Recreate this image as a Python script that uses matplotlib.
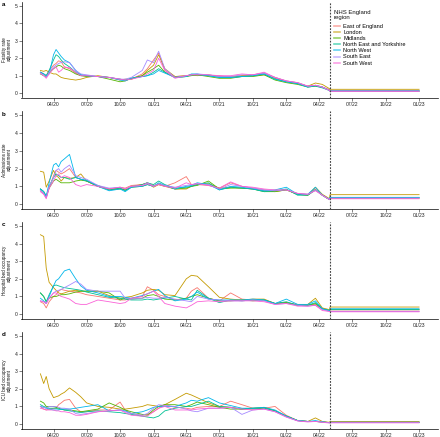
import numpy as np
import pandas as pd
import matplotlib
matplotlib.use("Agg")
import matplotlib.pyplot as plt
import matplotlib.dates as mdates

plt.rcParams['font.family'] = ['Liberation Sans', 'DejaVu Sans']

# observation dates (shared by every series)
dates = pd.to_datetime([
    "2020-02-25", "2020-03-05", "2020-03-12", "2020-03-20", "2020-04-01",
    "2020-04-08", "2020-04-15", "2020-04-22", "2020-05-01", "2020-05-15",
    "2020-06-01", "2020-06-15", "2020-07-01", "2020-08-01", "2020-09-01",
    "2020-10-01", "2020-10-15", "2020-11-01", "2020-12-01", "2020-12-15",
    "2021-01-01", "2021-01-15", "2021-02-01", "2021-03-01", "2021-04-01",
    "2021-04-15", "2021-05-01", "2021-06-01", "2021-07-01", "2021-08-01",
    "2021-09-01", "2021-10-01", "2021-11-01", "2021-12-01", "2022-01-01",
    "2022-02-01", "2022-03-01", "2022-03-22", "2022-04-10", "2022-04-30",
])
proj_dates = pd.to_datetime(["2022-05-01", "2023-01-01"])
cutoff = pd.Timestamp("2022-05-01")

regions = ["East of England", "London", "Midlands", "North East and Yorkshire",
           "North West", "South East", "South West"]
colors = ["#F8766D", "#C49A00", "#53B400", "#00C094", "#00B6EB", "#A58AFF", "#FB61D7"]

panel_letters = ["a", "b", "c", "d"]
ylabels = ["Fatality rate\nadjustment", "Admissions rate\nadjustment",
           "Hospital bed occupancy\nadjustment", "ICU bed occupancy\nadjustment"]

# ---- a: fatality rate adjustment ----
fatality = [
    [1.2, 1.1, 1.0, 1.3, 1.6, 1.7, 1.85, 1.8, 1.5, 1.4, 1.15, 1.0, 1.0, 0.95, 0.9, 0.8, 0.75, 0.8, 1.1, 1.4,
     1.9, 2.3, 1.3, 0.95, 1.0, 1.05, 1.05, 1.0, 1.0, 0.9, 1.0, 1.05, 1.15, 0.9, 0.7, 0.6, 0.4, 0.45, 0.35, 0.2],
    [1.3, 1.25, 1.3, 1.2, 1.1, 1.1, 1.0, 0.9, 0.85, 0.8, 0.75, 0.8, 0.9, 1.0, 0.9, 0.75, 0.8, 0.8, 1.0, 1.3,
     1.6, 2.2, 1.4, 0.95, 1.0, 1.05, 1.0, 1.05, 0.95, 0.95, 1.0, 1.0, 1.05, 0.85, 0.65, 0.55, 0.4, 0.58, 0.5, 0.25],
    [1.1, 1.0, 0.95, 1.2, 1.4, 1.5, 1.6, 1.55, 1.4, 1.3, 1.1, 1.0, 0.95, 0.95, 0.8, 0.65, 0.7, 0.85, 1.0, 1.2,
     1.4, 1.6, 1.2, 0.9, 0.95, 1.0, 1.05, 0.95, 0.85, 0.85, 0.95, 0.95, 1.05, 0.75, 0.6, 0.5, 0.35, 0.4, 0.35, 0.15],
    [1.2, 1.1, 1.0, 1.3, 1.9, 2.2, 2.1, 1.9, 1.7, 1.5, 1.2, 1.05, 1.0, 0.95, 0.9, 0.8, 0.75, 0.85, 0.95, 1.0,
     1.2, 1.4, 1.2, 0.9, 0.95, 1.05, 1.05, 1.0, 0.9, 0.9, 0.95, 1.0, 1.1, 0.8, 0.65, 0.55, 0.35, 0.4, 0.3, 0.15],
    [1.2, 1.1, 1.0, 1.1, 2.2, 2.5, 2.3, 2.1, 1.9, 1.75, 1.3, 1.05, 1.0, 0.95, 0.9, 0.75, 0.7, 0.85, 0.95, 1.0,
     1.1, 1.3, 1.15, 0.9, 0.95, 1.1, 1.1, 1.0, 0.9, 0.9, 0.95, 1.0, 1.1, 0.8, 0.65, 0.55, 0.35, 0.45, 0.35, 0.15],
    [1.15, 1.0, 0.9, 1.2, 1.5, 1.6, 1.7, 1.75, 1.8, 1.75, 1.3, 1.1, 1.05, 0.95, 0.9, 0.8, 0.8, 0.9, 1.3, 1.9,
     1.75, 2.4, 1.4, 0.9, 1.0, 1.05, 1.1, 1.05, 0.95, 0.95, 1.05, 1.05, 1.15, 0.9, 0.7, 0.6, 0.4, 0.45, 0.35, 0.15],
    [1.15, 1.0, 0.85, 1.1, 1.4, 1.5, 1.2, 1.3, 1.5, 1.45, 1.2, 1.0, 1.0, 0.95, 0.9, 0.8, 0.75, 0.8, 0.95, 1.1,
     1.3, 2.0, 1.3, 0.85, 1.0, 1.05, 1.05, 1.05, 1.0, 1.0, 1.1, 1.05, 1.2, 0.9, 0.7, 0.6, 0.4, 0.45, 0.35, 0.15],
]
fatality_proj = [0.15, 0.22, 0.12, 0.12, 0.12, 0.13, 0.1]

# ---- b: admissions rate adjustment ----
admissions = [
    [0.75, 0.6, 0.35, 0.9, 1.6, 1.9, 1.8, 1.7, 1.8, 2.0, 1.5, 1.4, 1.3, 1.0, 0.85, 0.95, 0.9, 1.05, 1.1, 1.2,
     1.05, 1.1, 1.0, 1.2, 1.55, 1.1, 1.1, 1.05, 0.9, 1.2, 1.0, 0.9, 0.8, 0.75, 0.8, 0.6, 0.55, 0.85, 0.5, 0.25],
    [1.85, 1.8, 0.95, 1.3, 1.9, 1.6, 1.5, 1.3, 1.5, 1.45, 1.5, 1.7, 1.3, 1.0, 0.85, 0.9, 0.8, 1.0, 1.1, 1.2,
     0.95, 1.1, 1.0, 0.85, 0.85, 1.0, 1.1, 1.15, 0.9, 0.95, 0.9, 0.85, 0.75, 0.7, 0.8, 0.55, 0.5, 0.95, 0.55, 0.3],
    [0.85, 0.7, 0.45, 0.9, 1.3, 1.4, 1.3, 1.2, 1.2, 1.2, 1.3, 1.35, 1.3, 1.0, 0.8, 0.85, 0.8, 0.95, 1.0, 1.1,
     1.0, 1.15, 1.05, 0.85, 0.9, 1.0, 1.05, 1.3, 0.85, 0.9, 0.9, 0.85, 0.7, 0.7, 0.8, 0.55, 0.5, 0.8, 0.5, 0.25],
    [0.85, 0.7, 0.4, 1.0, 1.5, 1.7, 1.6, 1.5, 1.5, 1.4, 1.5, 1.4, 1.3, 1.05, 0.8, 0.9, 0.75, 0.95, 1.1, 1.2,
     1.1, 1.3, 1.1, 0.9, 0.95, 1.0, 1.1, 1.2, 0.8, 0.95, 0.9, 0.85, 0.7, 0.75, 0.85, 0.5, 0.5, 0.8, 0.5, 0.25],
    [0.85, 0.7, 0.45, 1.2, 2.2, 2.3, 2.1, 2.4, 2.55, 2.8, 1.5, 1.4, 1.35, 1.0, 0.75, 0.85, 0.7, 0.95, 1.0, 1.1,
     1.0, 1.2, 1.05, 0.85, 1.0, 1.05, 1.2, 1.1, 0.8, 1.0, 0.95, 0.85, 0.75, 0.8, 0.95, 0.55, 0.55, 0.95, 0.5, 0.25],
    [0.75, 0.6, 0.35, 1.0, 1.5, 1.9, 2.0, 1.8, 2.0, 2.2, 1.6, 1.5, 1.4, 1.05, 0.9, 0.95, 0.85, 1.0, 1.05, 1.2,
     1.0, 1.15, 1.05, 0.95, 1.05, 1.1, 1.15, 1.1, 0.85, 1.1, 1.0, 0.9, 0.8, 0.75, 0.8, 0.6, 0.55, 0.8, 0.5, 0.25],
    [0.7, 0.55, 0.3, 0.9, 1.3, 1.6, 1.7, 1.5, 1.6, 1.5, 1.1, 1.0, 1.1, 1.0, 0.85, 0.95, 0.85, 1.0, 1.05, 1.15,
     1.0, 1.1, 1.0, 0.9, 1.2, 1.1, 1.15, 1.05, 0.9, 1.25, 1.0, 0.95, 0.85, 0.8, 0.8, 0.6, 0.55, 0.75, 0.5, 0.25],
]
admissions_proj = [0.33, 0.53, 0.35, 0.36, 0.38, 0.34, 0.3]

# ---- c: hospital bed occupancy adjustment ----
hospital = [
    [0.7, 0.6, 0.35, 0.7, 1.0, 1.1, 1.3, 1.4, 1.35, 1.3, 1.25, 1.2, 1.1, 1.0, 0.9, 0.8, 0.8, 0.9, 1.0, 1.55,
     1.35, 1.1, 1.0, 0.8, 0.9, 1.3, 1.5, 0.9, 0.75, 1.2, 0.85, 0.8, 0.8, 0.6, 0.65, 0.55, 0.5, 0.55, 0.3, 0.2],
    [4.5, 4.4, 2.6, 1.8, 1.5, 1.35, 1.2, 1.15, 1.2, 1.3, 1.35, 1.3, 1.3, 1.3, 1.05, 0.9, 0.95, 1.0, 1.2, 1.35,
     1.4, 1.35, 1.1, 1.05, 2.0, 2.2, 2.15, 1.55, 0.95, 0.85, 0.8, 0.85, 0.85, 0.6, 0.65, 0.5, 0.55, 0.9, 0.35, 0.25],
    [1.2, 1.0, 0.7, 0.9, 1.0, 1.0, 1.05, 1.1, 1.1, 1.15, 1.25, 1.3, 1.3, 1.3, 1.2, 0.8, 0.9, 0.85, 0.9, 1.05,
     1.1, 1.0, 0.85, 0.8, 0.9, 1.0, 1.1, 0.9, 0.75, 0.75, 0.8, 0.75, 0.8, 0.6, 0.65, 0.5, 0.5, 0.6, 0.3, 0.2],
    [1.2, 1.0, 0.7, 1.1, 1.6, 1.65, 1.6, 1.55, 1.5, 1.45, 1.4, 1.35, 1.25, 1.1, 0.95, 0.9, 0.85, 0.8, 0.8, 0.85,
     0.8, 0.85, 0.9, 1.0, 0.85, 0.8, 1.35, 0.9, 0.65, 0.8, 0.75, 0.8, 0.8, 0.6, 0.7, 0.5, 0.5, 0.65, 0.3, 0.2],
    [0.9, 0.75, 0.6, 1.0, 1.6, 1.9, 2.0, 2.2, 2.45, 2.55, 2.0, 1.6, 1.35, 1.2, 1.0, 1.0, 0.95, 0.9, 1.05, 1.15,
     1.3, 1.4, 1.05, 0.75, 0.85, 1.0, 1.25, 0.85, 0.8, 0.8, 0.8, 0.85, 0.8, 0.6, 0.85, 0.55, 0.55, 0.75, 0.3, 0.2],
    [0.75, 0.7, 0.6, 0.9, 1.2, 1.3, 1.35, 1.4, 1.5, 1.65, 1.85, 1.7, 1.4, 1.3, 1.3, 1.3, 0.9, 0.85, 0.9, 0.95,
     0.9, 0.9, 0.95, 0.85, 0.75, 0.7, 1.0, 0.85, 0.8, 0.75, 0.75, 0.8, 0.75, 0.55, 0.6, 0.5, 0.45, 0.5, 0.25, 0.15],
    [0.75, 0.7, 0.6, 0.9, 1.2, 1.2, 1.1, 1.0, 0.95, 0.85, 0.6, 0.55, 0.55, 0.8, 0.7, 0.6, 0.65, 0.9, 1.0, 1.15,
     1.3, 1.0, 0.6, 0.45, 0.35, 0.5, 0.7, 0.75, 0.7, 0.75, 0.75, 0.75, 0.7, 0.55, 0.6, 0.45, 0.45, 0.5, 0.2, 0.15],
]
hospital_proj = [0.17, 0.4, 0.27, 0.25, 0.3, 0.15, 0.13]

# ---- d: ICU bed occupancy adjustment ----
icu = [
    [1.0, 0.85, 0.8, 0.85, 0.9, 0.9, 1.1, 1.2, 1.35, 1.4, 0.9, 0.7, 0.7, 0.8, 0.8, 1.25, 0.8, 0.6, 0.5, 0.55,
     0.7, 0.9, 1.1, 0.95, 0.9, 0.85, 0.95, 1.0, 1.0, 1.3, 1.1, 0.9, 0.9, 1.0, 0.5, 0.2, 0.15, 0.15, 0.12, 0.08],
    [2.85, 2.3, 2.7, 2.0, 1.5, 1.55, 1.6, 1.7, 1.8, 2.05, 1.8, 1.55, 1.2, 1.0, 0.95, 0.85, 0.85, 0.9, 1.0, 1.1,
     1.05, 1.0, 1.1, 1.4, 1.75, 1.65, 1.5, 1.2, 1.0, 0.95, 0.85, 0.85, 0.9, 0.75, 0.45, 0.2, 0.15, 0.35, 0.15, 0.1],
    [1.3, 1.2, 1.0, 1.0, 1.0, 0.95, 0.9, 0.85, 0.8, 0.8, 0.75, 0.7, 0.75, 0.85, 1.2, 0.95, 0.8, 0.7, 0.55, 0.5,
     0.8, 1.0, 1.1, 1.1, 1.0, 1.1, 1.25, 1.1, 0.95, 0.85, 0.85, 0.9, 0.95, 0.75, 0.45, 0.2, 0.15, 0.15, 0.12, 0.08],
    [1.1, 1.0, 0.95, 0.9, 0.9, 0.9, 0.85, 0.85, 0.8, 0.75, 0.7, 0.65, 0.7, 0.75, 0.7, 0.65, 0.6, 0.55, 0.45, 0.4,
     0.35, 0.45, 0.75, 0.9, 1.0, 1.0, 1.1, 1.3, 1.0, 0.95, 0.85, 0.9, 0.9, 0.75, 0.45, 0.2, 0.15, 0.15, 0.12, 0.08],
    [1.0, 0.95, 0.9, 0.85, 0.8, 0.8, 0.8, 0.85, 0.85, 0.85, 0.9, 0.95, 1.0, 1.1, 0.75, 0.8, 0.75, 0.6, 0.7, 0.8,
     0.95, 1.0, 1.0, 1.0, 1.2, 1.35, 1.3, 1.5, 1.2, 1.05, 0.9, 0.9, 0.95, 0.8, 0.45, 0.2, 0.15, 0.2, 0.12, 0.08],
    [1.0, 0.95, 0.9, 1.0, 1.0, 1.0, 0.95, 0.9, 0.9, 0.85, 0.6, 0.55, 0.6, 0.7, 0.75, 0.8, 0.7, 0.6, 0.5, 0.6,
     0.9, 1.1, 1.05, 1.0, 0.85, 0.75, 0.7, 0.9, 0.9, 0.95, 0.55, 0.8, 0.85, 0.7, 0.4, 0.18, 0.15, 0.15, 0.12, 0.08],
    [0.9, 0.85, 0.8, 0.8, 0.8, 0.75, 0.75, 0.7, 0.7, 0.65, 0.5, 0.5, 0.55, 0.7, 0.75, 0.8, 0.65, 0.5, 0.45, 0.45,
     0.7, 0.9, 1.0, 0.8, 0.8, 0.8, 0.85, 0.9, 0.9, 0.95, 0.85, 0.8, 0.85, 0.7, 0.4, 0.18, 0.12, 0.15, 0.1, 0.06],
]
icu_proj = [0.1, 0.15, 0.1, 0.1, 0.1, 0.1, 0.07]

panels = [(fatality, fatality_proj), (admissions, admissions_proj),
          (hospital, hospital_proj), (icu, icu_proj)]

W, H = 440, 437
fig = plt.figure(figsize=(W / 100, H / 100), dpi=100)

# axes boxes in pixels: (top, bottom)
boxes = [(1.5, 97.5), (111, 208.5), (221.5, 318.5), (331.5, 428.5)]
left_px, right_px = 21.5, 438

xticks = pd.date_range("2020-04-01", "2023-01-01", freq="QS")
axes = []
for i, ((series, proj), (top, bot)) in enumerate(zip(panels, boxes)):
    ax = fig.add_axes([left_px / W, 1 - bot / H, (right_px - left_px) / W, (bot - top) / H])
    axes.append(ax)
    for vals, p, name, col in zip(series, proj, regions, colors):
        x = list(dates) + list(proj_dates)
        y = list(vals) + [p, p]
        ax.plot(x, y, color=col, lw=0.6, label=name, solid_joinstyle='round')
    ax.axvline(cutoff, color='#444444', lw=0.8, ls=(0, (1.6, 1.2)), zorder=5)

    ax.set_xlim(pd.Timestamp("2020-01-04"), pd.Timestamp("2023-02-22"))
    ax.set_ylim(-0.25, 5.25)
    ax.set_yticks(range(6))
    ax.set_xticks(xticks)
    ax.xaxis.set_major_formatter(mdates.DateFormatter("%m/%y"))
    ax.tick_params(labelsize=3.6, length=2, width=0.4, pad=1, colors='#222222',
                   labelcolor='#222222')
    for s in ['top', 'right']:
        ax.spines[s].set_visible(False)
    for s in ['left', 'bottom']:
        ax.spines[s].set_linewidth(0.5)
    ax.set_ylabel(ylabels[i], fontsize=3.3, linespacing=1.0, color='#111111')
    ax.yaxis.set_label_coords(-9.5 / (right_px - left_px), 0.5)
    fig.text(2 / W, 1 - (top + 1) / H, panel_letters[i], fontsize=4.5,
             fontweight='bold', va='top', ha='left')

# legend: title as its own text, entries below it
fig.text(334 / W, 1 - 15 / H, "NHS England\nregion", fontsize=4.3,
         linespacing=1.1, va='center', ha='left', color='#111111')
leg = axes[0].legend(loc='upper left',
                     bbox_to_anchor=(334 / W, 1 - 23.8 / H), bbox_transform=fig.transFigure,
                     frameon=False, fontsize=4.1,
                     handlelength=1.1, handletextpad=0.55, labelspacing=0.2,
                     borderpad=0, borderaxespad=0)
for h in leg.get_lines():
    h.set_linewidth(1.2)
    h.set_alpha(0.6)

fig.savefig("out.png", dpi=100)
